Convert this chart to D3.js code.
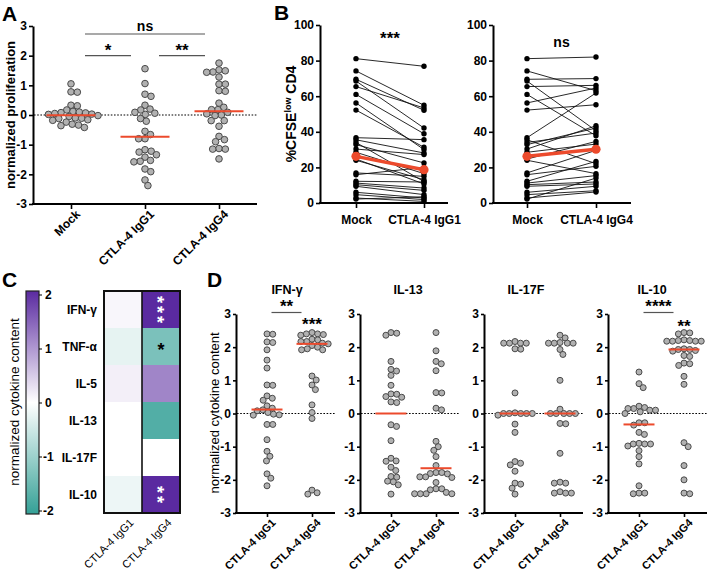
<!DOCTYPE html>
<html><head><meta charset="utf-8">
<script src="https://cdn.jsdelivr.net/npm/d3@7"></script>
<style>body{margin:0;background:#fff} text{font-family:"Liberation Sans",Arial,Helvetica,sans-serif}</style>
</head><body><svg id="c" width="709" height="575"></svg>
<script>
// ---------------- DATA ----------------
// Panel A
const groupsA = ["Mock", "CTLA-4 IgG1", "CTLA-4 IgG4"];
const ticksA = [3, 2, 1, 0, -1, -2, -3];
const mockA = [1.05, 0.78, 0.77, 0.33, 0.31, 0.17, 0.12, 0.10, 0.08, 0.07, 0.05, 0.03, 0.02, -0.02, -0.05, -0.10, -0.11, -0.12, -0.16, -0.18, -0.24, -0.31, -0.34, -0.36, -0.42];
const igg1A = [1.56, 1.06, 0.70, 0.63, 0.33, 0.20, 0.17, 0.09, 0.06, 0.02, -0.12, -0.21, -0.55, -0.66, -0.80, -0.80, -1.17, -1.22, -1.25, -1.34, -1.42, -1.53, -1.56, -1.58, -1.82, -1.91, -2.19, -2.38];
const igg4A = [1.75, 1.52, 1.49, 1.45, 1.44, 1.28, 1.04, 1.04, 0.82, 0.80, 0.40, 0.26, 0.18, 0.18, 0.09, 0.04, 0.0, -0.02, -0.19, -0.19, -0.38, -0.72, -0.83, -0.90, -1.13, -1.15, -1.15, -1.48];
const medianA = [-0.01, -0.73, 0.13];
const sigA = [["ns", 0, 2], ["*", 0, 1], ["**", 1, 2]];

// Panel B
const ticksB = [0, 20, 40, 60, 80, 100];
const groupsB1 = ["Mock", "CTLA-4 IgG1"];
const groupsB2 = ["Mock", "CTLA-4 IgG4"];
const mockB = [81.1, 74.2, 69.5, 68.5, 65.4, 61.0, 56.2, 52.2, 36.7, 35.5, 34.0, 32.8, 30.3, 28.5, 24.7, 24.0, 16.9, 15.9, 12.2, 11.2, 10.3, 9.4, 6.0, 4.7, 2.8, 2.2];
const igg1B = [76.8, 54.9, 52.1, 42.1, 53.4, 38.9, 30.0, 31.3, 35.6, 28.1, 12.0, 22.5, 27.2, 16.5, 10.7, 13.1, 15.0, 20.0, 11.8, 8.4, 7.1, 4.7, 2.8, 1.9, 0.9, 3.5];
const igg4B = [82.0, 63.1, 69.9, 40.6, 66.1, 37.8, 64.6, 55.2, 61.8, 22.1, 39.3, 42.1, 43.4, 33.1, 34.6, 16.5, 29.6, 20.6, 23.4, 15.4, 11.8, 10.7, 9.4, 6.9, 6.2, 14.0];
const meanB1 = [26.2, 18.7];
const meanB2 = [26.2, 30.2];

// Panel C
const cytokinesC = ["IFN-γ", "TNF-α", "IL-5", "IL-13", "IL-17F", "IL-10"];
const groupsC = ["CTLA-4 IgG1", "CTLA-4 IgG4"];
const heatG1 = [0.08, -0.25, 0.15, 0.0, 0.0, -0.18];
const heatG4 = [2.0, -1.3, 1.15, -1.7, 0.0, 2.0];
const starsG4 = ["***", "*", "", "", "", "**"];
const ticksC = [2, 1, 0, -1, -2];

// Panel D
const groupsD = ["CTLA-4 IgG1", "CTLA-4 IgG4"];
const ticksD = [3, 2, 1, 0, -1, -2, -3];
const titlesD = ["IFN-γ", "IL-13", "IL-17F", "IL-10"];
const ifnG1 = [2.40, 2.39, 2.16, 2.14, 1.92, 1.61, 1.37, 0.86, 0.85, 0.53, 0.46, 0.40, 0.23, 0.16, 0.11, 0.08, 0.03, -0.02, -0.04, -0.05, -0.33, -0.33, -0.79, -1.14, -1.29, -1.43, -1.82, -1.95, -2.18];
const ifnG4 = [2.44, 2.40, 2.40, 2.38, 2.36, 2.24, 2.22, 2.17, 2.17, 2.12, 2.10, 2.05, 2.0, 1.95, 1.92, 1.92, 1.13, 1.01, 0.86, 0.72, 0.26, 0.03, -0.15, -2.31, -2.39, -2.43];
const il13G1 = [2.44, 2.42, 2.36, 1.57, 1.33, 1.28, 1.15, 0.85, 0.59, 0.58, 0.51, 0.49, 0.35, 0.33, -0.34, -0.39, -0.82, -1.35, -1.43, -1.44, -1.62, -1.72, -1.90, -1.92, -2.04, -2.06, -2.15, -2.43];
const il13G4 = [2.44, 1.89, 1.57, 1.50, 1.29, 0.63, 0.62, 0.16, 0.11, -0.84, -1.00, -1.11, -1.30, -1.57, -1.78, -1.78, -1.81, -1.82, -1.91, -1.91, -1.93, -2.08, -2.27, -2.27, -2.30, -2.38, -2.42, -2.42, -2.42, -2.42];
const il17G1 = [2.17, 2.12, 2.12, 2.12, 2.12, 1.95, 1.94, 0.62, 0.0, 0.0, 0.0, 0.0, 0.0, 0.02, -0.05, -0.32, -0.57, -1.45, -1.50, -1.55, -1.74, -2.10, -2.13, -2.25, -2.43];
const il17G4 = [2.36, 2.28, 2.14, 2.12, 2.12, 2.12, 2.12, 1.93, 1.78, 1.0, 0.13, 0.0, 0.0, 0.0, 0.0, 0.0, -0.30, -0.31, -1.20, -2.07, -2.10, -2.10, -2.36, -2.40, -2.40, -2.40];
const il10G1 = [1.25, 0.90, 0.78, 0.22, 0.18, 0.15, 0.15, 0.10, 0.10, 0.05, 0.0, -0.28, -0.28, -0.35, -0.57, -0.63, -0.90, -0.92, -0.92, -0.92, -0.98, -1.12, -1.30, -1.52, -2.18, -2.40, -2.40, -2.42];
const il10G4 = [2.44, 2.43, 2.40, 2.22, 2.20, 2.18, 2.18, 2.18, 2.18, 2.20, 1.95, 1.93, 1.93, 1.90, 1.88, 1.75, 1.72, 1.52, 1.50, 1.45, 1.12, 0.88, -0.88, -1.00, -1.57, -2.00, -2.40, -2.42];
const medianD = [[0.12, 2.10], [0.0, -1.65], [0.0, 0.0], [-0.33, 1.93]];
const seriesD = [[ifnG1, ifnG4], [il13G1, il13G4], [il17G1, il17G4], [il10G1, il10G4]];

// ---------------- DRAWING ----------------
const svg = d3.select("#c");
svg.append("rect").attr("width", 709).attr("height", 575).attr("fill", "#fff");
const RED = "#ec4a2c";
const DOT_FILL = "#b1b1b1", DOT_STROKE = "#4a4a4a";
const fmt = d => String(d);

function swarm(vals, y, cx, r) {
  const d = 2 * r * 0.96;
  const pts = vals.map(v => ({ v, y: y(v) })).sort((a, b) => b.v - a.v);
  const out = [];
  for (const p of pts) {
    const near = out.filter(q => Math.abs(q.y - p.y) < d);
    const cands = [cx];
    for (const q of near) {
      const dx = Math.sqrt(d * d - (q.y - p.y) ** 2);
      cands.push(q.x + dx + 0.01, q.x - dx - 0.01);
    }
    cands.sort((a, b) => Math.abs(a - cx) - Math.abs(b - cx));
    for (const c of cands) {
      if (near.every(q => (q.x - c) ** 2 + (q.y - p.y) ** 2 >= d * d - 0.05)) { p.x = c; break; }
    }
    out.push(p);
  }
  return out;
}

function styleAxis(g, fs, bold) {
  g.select(".domain").attr("stroke", "#000").attr("stroke-width", 2);
  g.selectAll(".tick line").attr("stroke", "#000").attr("stroke-width", 1.6);
  g.selectAll(".tick text").attr("fill", "#000").attr("font-size", fs).attr("font-weight", bold ? "bold" : "normal");
}

function panelLabel(t, x, y) {
  svg.append("text").attr("x", x).attr("y", y).attr("font-size", 21).attr("font-weight", "bold").text(t);
}

function star(g, txt, x, yBase, fs, fill) {
  g.append("text").attr("x", x).attr("y", yBase).attr("text-anchor", "middle")
    .attr("font-size", fs).attr("font-weight", "bold").attr("fill", fill || "#000").text(txt);
}

function rotLabels(g, cats, x, yTop, fs, bold, dx) {
  g.selectAll(null).data(cats).join("text")
    .attr("transform", d => `translate(${x(d) + dx},${yTop}) rotate(-45)`)
    .attr("text-anchor", "end").attr("dy", "0.7em")
    .attr("font-size", fs).attr("font-weight", bold ? "bold" : "normal").text(d => d);
}

// ===== Panel A =====
{
  const g = svg.append("g");
  const y = d3.scaleLinear().domain([-3, 3]).range([204, 26]);
  const x = d3.scalePoint().domain(groupsA).range([71, 219]);
  const ax = g.append("g").attr("transform", "translate(33,0)")
    .call(d3.axisLeft(y).tickValues(ticksA).tickFormat(fmt).tickSize(4).tickSizeOuter(0).tickPadding(2));
  styleAxis(ax, 12, true);
  g.append("line").attr("x1", 32).attr("x2", 257).attr("y1", 204).attr("y2", 204).attr("stroke", "#000").attr("stroke-width", 2);
  const bx = g.append("g").attr("transform", "translate(0,204)").call(d3.axisBottom(x).tickSize(5).tickSizeOuter(0));
  bx.select(".domain").remove();
  bx.selectAll("text").remove();
  styleAxis(bx, 12, true);
  rotLabels(g, groupsA, x, 209, 12, true, 4);
  g.append("line").attr("x1", 34).attr("x2", 257).attr("y1", y(0)).attr("y2", y(0))
    .attr("stroke", "#000").attr("stroke-width", 1.2).attr("stroke-dasharray", "1.6,1.6");
  const data = [mockA, igg1A, igg4A];
  data.forEach((vals, i) => {
    const pts = swarm(vals, y, x(groupsA[i]), 3.3);
    g.selectAll(null).data(pts).join("circle").attr("cx", d => d.x).attr("cy", d => d.y).attr("r", 3.3)
      .attr("fill", DOT_FILL).attr("stroke", DOT_STROKE).attr("stroke-width", 1);
  });
  medianA.forEach((m, i) => {
    g.append("line").attr("x1", x(groupsA[i]) - 24.5).attr("x2", x(groupsA[i]) + 24.5)
      .attr("y1", y(m)).attr("y2", y(m)).attr("stroke", RED).attr("stroke-width", 2);
  });
  sigA.forEach(([lab, a, b]) => {
    const yy = lab === "ns" ? y(2.73) : y(2.0);
    const x1 = x(groupsA[a]) + 14, x2 = x(groupsA[b]) - 14;
    g.append("line").attr("x1", x1).attr("x2", x2).attr("y1", yy).attr("y2", yy).attr("stroke", "#555").attr("stroke-width", 1.2);
    if (lab === "ns") star(g, lab, (x1 + x2) / 2, yy - 3, 14);
    else star(g, lab, (x1 + x2) / 2, yy + 0.5, 17);
  });
  g.append("text").attr("transform", `translate(15,${y(0)}) rotate(-90)`).attr("text-anchor", "middle")
    .attr("font-size", 13).attr("font-weight", "bold").text("normalized proliferation");
  panelLabel("A", 2, 21);
}

// ===== Panel B =====
function drawB(cats, vMock, vTrt, means, axX, xEnd, pMock, pTrt, sig, sigY) {
  const g = svg.append("g");
  const y = d3.scaleLinear().domain([0, 100]).range([203, 25]);
  const x = d3.scalePoint().domain(cats).range([pMock, pTrt]);
  const ax = g.append("g").attr("transform", `translate(${axX},0)`)
    .call(d3.axisLeft(y).tickValues(ticksB).tickFormat(fmt).tickSize(4).tickSizeOuter(0).tickPadding(2));
  styleAxis(ax, 12, true);
  g.append("line").attr("x1", axX - 1).attr("x2", xEnd).attr("y1", 203).attr("y2", 203).attr("stroke", "#000").attr("stroke-width", 2);
  const bx = g.append("g").attr("transform", "translate(0,203)").call(d3.axisBottom(x).tickSize(5).tickSizeOuter(0).tickPadding(5));
  bx.select(".domain").remove();
  styleAxis(bx, 12, true);
  bx.selectAll(".tick text").attr("dy", "0.95em");
  const pairs = vMock.map((m, i) => [m, vTrt[i]]);
  g.selectAll(null).data(pairs).join("line")
    .attr("x1", x(cats[0])).attr("x2", x(cats[1]))
    .attr("y1", d => y(d[0])).attr("y2", d => y(d[1]))
    .attr("stroke", "#111").attr("stroke-width", 0.9);
  [vMock, vTrt].forEach((vals, i) => {
    g.selectAll(null).data(vals).join("circle").attr("cx", x(cats[i])).attr("cy", d => y(d)).attr("r", 2.7).attr("fill", "#000");
  });
  g.append("line").attr("x1", x(cats[0])).attr("x2", x(cats[1])).attr("y1", y(means[0])).attr("y2", y(means[1]))
    .attr("stroke", RED).attr("stroke-width", 3.5);
  means.forEach((m, i) => g.append("circle").attr("cx", x(cats[i])).attr("cy", y(m)).attr("r", 4.6).attr("fill", RED));
  if (sig === "ns") star(g, sig, (pMock + pTrt) / 2, sigY, 14);
  else star(g, sig, (pMock + pTrt) / 2, sigY, 17);
  return g;
}
drawB(groupsB1, mockB, igg1B, meanB1, 320, 448, 356, 424, "***", 44);
drawB(groupsB2, mockB, igg4B, meanB2, 493, 631, 527, 596, "ns", 47);
{
  const t = svg.append("text").attr("transform", "translate(296,114) rotate(-90)").attr("text-anchor", "middle")
    .attr("font-size", 14).attr("font-weight", "bold");
  t.append("tspan").text("%CFSE");
  t.append("tspan").attr("font-size", 9).attr("dy", -5).text("low");
  t.append("tspan").attr("dy", 5).text(" CD4");
  panelLabel("B", 274, 20);
}

// ===== Panel C =====
{
  const g = svg.append("g");
  const color = d3.scaleLinear().domain([-2, 0, 2]).range(["#34a096", "#ffffff", "#5a2aa0"]).clamp(true);
  const grad = svg.append("defs").append("linearGradient").attr("id", "cbar").attr("x1", 0).attr("x2", 0).attr("y1", 1).attr("y2", 0);
  d3.range(-2, 2.01, 0.25).forEach(v => grad.append("stop").attr("offset", (v + 2) / 4).attr("stop-color", color(v)));
  g.append("rect").attr("x", 26).attr("y", 291).attr("width", 13).attr("height", 223).attr("fill", "url(#cbar)")
    .attr("stroke", "#222").attr("stroke-width", 1.2);
  const cy = d3.scaleLinear().domain([-2, 2]).range([511, 295]);
  g.selectAll(null).data(ticksC).join("line").attr("x1", 39).attr("x2", 42).attr("y1", d => cy(d)).attr("y2", d => cy(d))
    .attr("stroke", "#000").attr("stroke-width", 1);
  g.selectAll(null).data(ticksC).join("text").attr("x", d => d < 0 ? 43 : 45).attr("y", d => cy(d)).attr("dy", "0.35em")
    .attr("font-size", 12).attr("font-weight", "bold").text(d => d);
  g.append("text").attr("transform", "translate(19,402) rotate(-90)").attr("text-anchor", "middle")
    .attr("font-size", 13.5).text("normalized cytokine content");
  const x = d3.scaleBand().domain(groupsC).range([104, 180]);
  const y = d3.scaleBand().domain(cytokinesC).range([291, 513]);
  [heatG1, heatG4].forEach((vals, j) => {
    g.selectAll(null).data(vals).join("rect")
      .attr("x", x(groupsC[j])).attr("y", (d, i) => y(cytokinesC[i]))
      .attr("width", x.bandwidth()).attr("height", y.bandwidth()).attr("fill", d => color(d));
  });
  g.append("rect").attr("x", 104).attr("y", 291).attr("width", 76).attr("height", 222).attr("fill", "none")
    .attr("stroke", "#111").attr("stroke-width", 2);
  g.append("line").attr("x1", x(groupsC[1])).attr("x2", x(groupsC[1])).attr("y1", 291).attr("y2", 513)
    .attr("stroke", "#111").attr("stroke-width", 1.6);
  g.selectAll(null).data(cytokinesC).join("text").attr("x", 97).attr("y", d => y(d) + y.bandwidth() / 2).attr("dy", "0.35em")
    .attr("text-anchor", "end").attr("font-size", 12).attr("font-weight", "bold").text(d => d);
  // significance stars in IgG4 column (multi-star labels run vertically)
  starsG4.forEach((s, i) => {
    if (!s) return;
    const cx = x(groupsC[1]) + x.bandwidth() / 2, cyy = y(cytokinesC[i]) + y.bandwidth() / 2;
    const fill = Math.abs(heatG4[i]) > 1.6 ? "#fff" : "#000";
    if (s.length > 1) {
      g.append("text").attr("transform", `translate(${cx},${cyy + 1.5}) rotate(90)`).attr("text-anchor", "middle")
        .attr("y", 0).attr("dy", "0.55em").attr("font-size", 18).attr("font-weight", "bold")
        .attr("letter-spacing", "3px").attr("fill", fill).text(s);
    } else {
      g.append("text").attr("x", cx).attr("y", cyy + 9.5).attr("text-anchor", "middle")
        .attr("font-size", 18).attr("font-weight", "bold").attr("fill", fill).text(s);
    }
  });
  rotLabels(g, groupsC, d => x(d) + x.bandwidth() / 2, 518, 11, false, 6);
  panelLabel("C", 2, 287);
}

// ===== Panel D =====
{
  const g = svg.append("g");
  const y = d3.scaleLinear().domain([-3, 3]).range([513, 314]);
  const axXs = [236, 360, 484, 608];
  const titleOff = [51, 48, 42, 44];
  axXs.forEach((axX, k) => {
    const x = d3.scalePoint().domain(groupsD).range([axX + 31, axX + 76]);
    const ax = g.append("g").attr("transform", `translate(${axX},0)`)
      .call(d3.axisLeft(y).tickValues(ticksD).tickFormat(fmt).tickSize(3).tickSizeOuter(0).tickPadding(2));
    styleAxis(ax, 12, true);
    g.append("line").attr("x1", axX - 1).attr("x2", axX + 99).attr("y1", 513).attr("y2", 513).attr("stroke", "#000").attr("stroke-width", 2);
    const bx = g.append("g").attr("transform", "translate(0,513)").call(d3.axisBottom(x).tickSize(4).tickSizeOuter(0));
    bx.select(".domain").remove();
    bx.selectAll("text").remove();
    styleAxis(bx, 11, true);
    rotLabels(g, groupsD, x, 518, 11, true, 4);
    g.append("line").attr("x1", axX + 1).attr("x2", axX + 99).attr("y1", y(0)).attr("y2", y(0))
      .attr("stroke", "#000").attr("stroke-width", 1.2).attr("stroke-dasharray", "1.6,1.6");
    seriesD[k].forEach((vals, i) => {
      const pts = swarm(vals, y, x(groupsD[i]), 3.0);
      g.selectAll(null).data(pts).join("circle").attr("cx", d => d.x).attr("cy", d => d.y).attr("r", 3.0)
        .attr("fill", DOT_FILL).attr("stroke", DOT_STROKE).attr("stroke-width", 1);
    });
    medianD[k].forEach((m, i) => {
      g.append("line").attr("x1", x(groupsD[i]) - 15.5).attr("x2", x(groupsD[i]) + 15.5)
        .attr("y1", y(m)).attr("y2", y(m)).attr("stroke", RED).attr("stroke-width", 2);
    });
    g.append("text").attr("x", axX + titleOff[k]).attr("y", 294).attr("text-anchor", "middle")
      .attr("font-size", 12.5).attr("font-weight", "bold").text(titlesD[k]);
    if (k === 0 || k === 3) {
      const x1 = x(groupsD[0]) + 4.5, x2 = x(groupsD[1]) - 10.5;
      g.append("line").attr("x1", x1).attr("x2", x2).attr("y1", 312.5).attr("y2", 312.5).attr("stroke", "#555").attr("stroke-width", 1.2);
      star(g, k === 0 ? "**" : "****", (x1 + x2) / 2, 312, 17);
      star(g, k === 0 ? "***" : "**", x(groupsD[1]), k === 0 ? 330 : 332, 17);
    }
  });
  g.append("text").attr("transform", "translate(219,413) rotate(-90)").attr("text-anchor", "middle")
    .attr("font-size", 13).text("normalized cytokine content");
  panelLabel("D", 207, 287);
}
</script></body></html>
